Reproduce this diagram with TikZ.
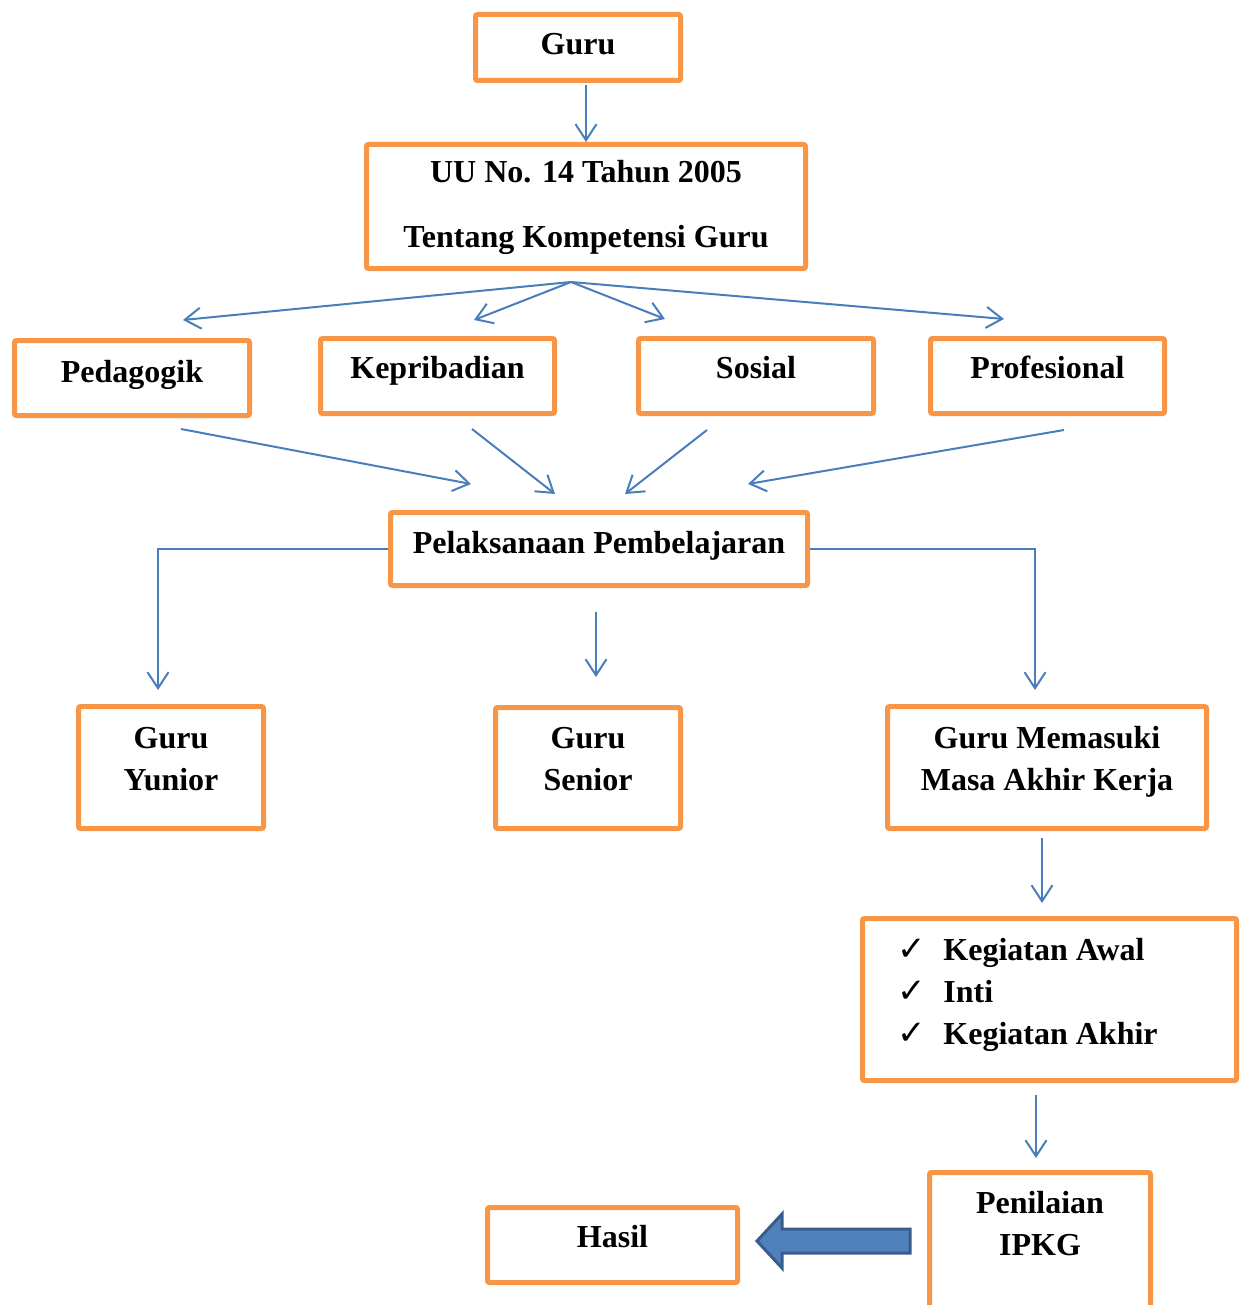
\documentclass[tikz,border=0pt]{standalone}
\usepackage{fontspec}
\setmainfont{Liberation Serif}
\newfontfamily\symfont{DejaVu Sans}
\usetikzlibrary{arrows.meta}
\definecolor{oranye}{HTML}{F79646}
\definecolor{biru}{HTML}{4A7EBB}
\definecolor{birublok}{HTML}{4F81BD}
\definecolor{birutepi}{HTML}{385D8A}
\newcommand{\cek}[1]{\makebox[23pt][l]{\symfont\fontsize{17}{21}\selectfont ✓}#1}

\begin{document}
\begin{tikzpicture}[x=0.5pt,y=-0.5pt,
	box/.style={draw=oranye, line width=2.5pt, rounded corners=1pt, inner sep=0pt},
	lbl/.style={font=\fontsize{16}{21}\selectfont\bfseries, anchor=base, align=center, inner sep=0pt},
	arr/.style={-{Straight Barb[length=8pt,width=10.5pt]}, draw=biru, line width=1pt}]
	\clip (0,0) rectangle (1246,1305);

	% kotak (teks: garis dasar baris terakhir)
	\node[box, minimum width=102.5pt, minimum height=33pt] (guru) at (578,47.5) {};
	\node[lbl] (guru-t) at (578,55) {Guru};
	\node[box, minimum width=219.5pt, minimum height=62pt] (uu) at (586,206.5) {};
	\node[lbl] (uu-t) at (586,248) {UU No. 14 Tahun 2005\\[11.5pt]Tentang Kompetensi Guru};

	\node[box, minimum width=117.5pt, minimum height=37.5pt] (ped) at (132,378) {};
	\node[lbl] (ped-t) at (132,382) {Pedagogik};
	\node[box, minimum width=117pt, minimum height=37.5pt] (kep) at (437.5,376) {};
	\node[lbl] (kep-t) at (437.5,378) {Kepribadian};
	\node[box, minimum width=117.5pt, minimum height=37.5pt] (sos) at (756,376) {};
	\node[lbl] (sos-t) at (756,378) {Sosial};
	\node[box, minimum width=117pt, minimum height=37.5pt] (pro) at (1047.5,376) {};
	\node[lbl] (pro-t) at (1047.5,378) {Profesional};

	\node[box, minimum width=208.5pt, minimum height=36.5pt] (pel) at (599,549) {};
	\node[lbl] (pel-t) at (599,553) {Pelaksanaan Pembelajaran};

	\node[box, minimum width=92.5pt, minimum height=61pt] (yun) at (171,767.5) {};
	\node[lbl] (yun-t) at (171,790) {Guru\\Yunior};
	\node[box, minimum width=92.5pt, minimum height=60.5pt] (sen) at (588,768) {};
	\node[lbl] (sen-t) at (588,790) {Guru\\Senior};
	\node[box, minimum width=159.5pt, minimum height=61pt] (mas) at (1047,767.5) {};
	\node[lbl] (mas-t) at (1047,790) {Guru Memasuki\\Masa Akhir Kerja};

	\node[box, minimum width=187pt, minimum height=81pt] (chk) at (1049.5,999.5) {};
	\node[lbl, anchor=base west, align=left] (chk-t) at (897,1044)
		{\cek{Kegiatan Awal}\\\cek{Inti}\\\cek{Kegiatan Akhir}};

	\node[box, minimum width=110.5pt, minimum height=71.25pt] (pen) at (1040,1243.75) {};
	\node[lbl] (pen-t) at (1040,1255) {Penilaian\\IPKG};
	\node[box, minimum width=125pt, minimum height=37.5pt] (has) at (612.5,1245) {};
	\node[lbl] (has-t) at (612.5,1247) {Hasil};

	% ujung panah
	\coordinate (fan) at (571,282);
	\coordinate (f1) at (183,320);
	\coordinate (f2) at (474,320);
	\coordinate (f3) at (665,319);
	\coordinate (f4) at (1004,319);
	\coordinate (a1) at (181,429);
	\coordinate (a2) at (472,429);
	\coordinate (a3) at (707,430);
	\coordinate (a4) at (1064,430);
	\coordinate (b1) at (471,484);
	\coordinate (b2) at (555,494);
	\coordinate (b3) at (625,494);
	\coordinate (b4) at (748,484);
	\coordinate (yun-in) at (158,690);
	\coordinate (mas-in) at (1035,690);
	\coordinate (sen-a) at (596,612);
	\coordinate (sen-b) at (596,677);
	\coordinate (mas-a) at (1042,838);
	\coordinate (mas-b) at (1042,903);
	\coordinate (chk-a) at (1036,1095);
	\coordinate (chk-b) at (1036,1158);

	% panah
	\draw[arr, shorten <=1.25pt] (guru.south -| uu.north) -- (uu.north);
	\foreach \i in {1,...,4}
		\draw[arr] (fan) -- (f\i);
	\foreach \i in {1,...,4}
		\draw[arr] (a\i) -- (b\i);
	\draw[arr] (pel.west) -| (yun-in);
	\draw[arr] (pel.east) -| (mas-in);
	\draw[arr] (sen-a) -- (sen-b);
	\draw[arr] (mas-a) -- (mas-b);
	\draw[arr] (chk-a) -- (chk-b);

	% panah blok
	\draw[birutepi, fill=birublok, line width=1.5pt, line join=miter]
		(910,1229) -- (782,1229) -- (782,1214) -- (757,1241) -- (782,1268) -- (782,1253) -- (910,1253) -- cycle;
\end{tikzpicture}
\end{document}
